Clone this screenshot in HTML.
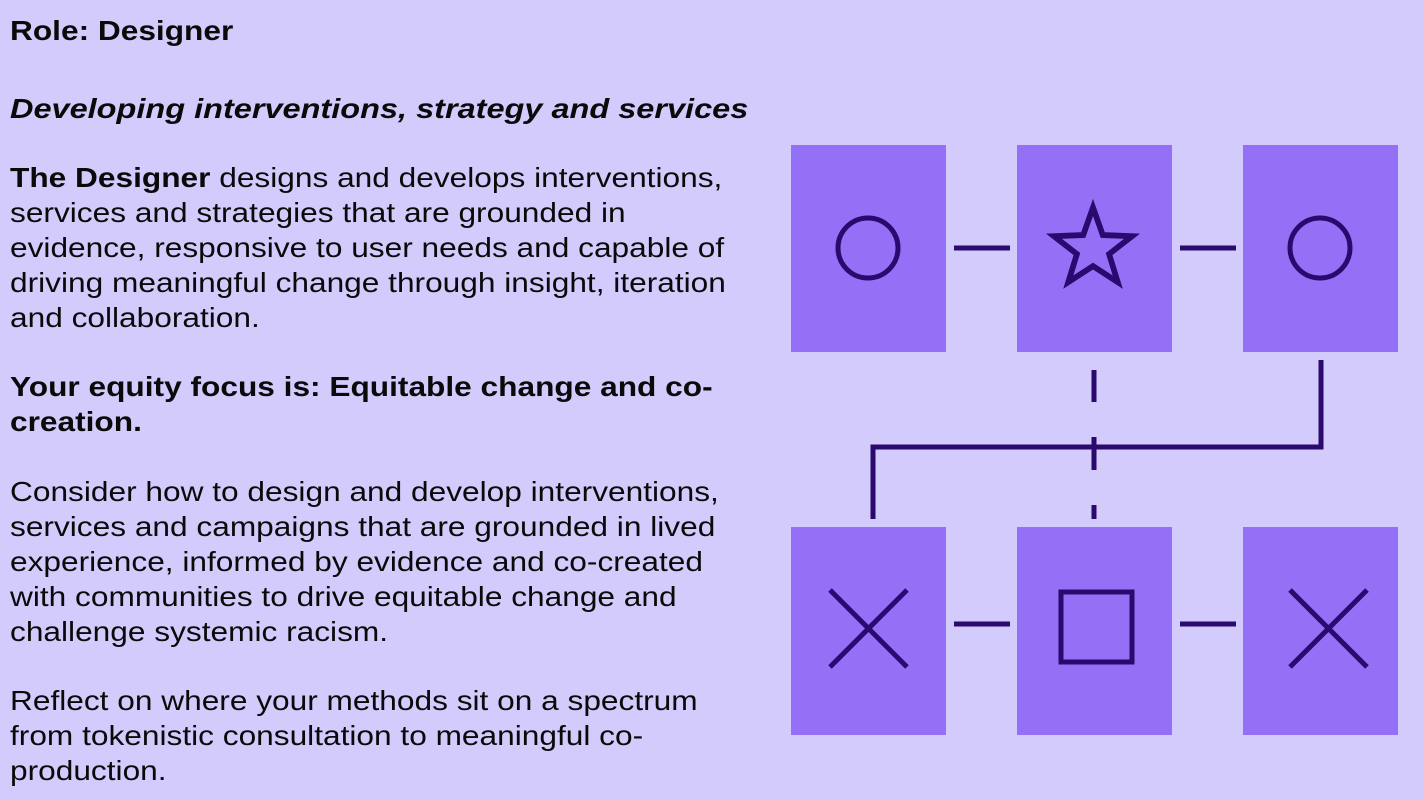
<!DOCTYPE html>
<html><head><style>
body{margin:0;width:1424px;height:800px;background:#d2cbfb;overflow:hidden;font-family:"Liberation Sans",sans-serif;color:#0a0a0a;position:relative}
.l{position:absolute;left:10px;white-space:nowrap;font-size:28px;line-height:35px;transform:scaleX(1.13);transform-origin:0 50%}
b{font-weight:bold}
</style></head><body>
<div class="l" style="top:13px"><b>Role: Designer</b></div>
<div class="l" style="top:91px;transform:scaleX(1.16)"><b><i>Developing interventions, strategy and services</i></b></div>
<div class="l" style="top:160px"><b>The Designer</b> designs and develops interventions,</div>
<div class="l" style="top:195px">services and strategies that are grounded in</div>
<div class="l" style="top:230px">evidence, responsive to user needs and capable of</div>
<div class="l" style="top:265px">driving meaningful change through insight, iteration</div>
<div class="l" style="top:300px">and collaboration.</div>
<div class="l" style="top:369px"><b>Your equity focus is: Equitable change and co-</b></div>
<div class="l" style="top:404px"><b>creation.</b></div>
<div class="l" style="top:474px">Consider how to design and develop interventions,</div>
<div class="l" style="top:509px">services and campaigns that are grounded in lived</div>
<div class="l" style="top:544px">experience, informed by evidence and co-created</div>
<div class="l" style="top:579px">with communities to drive equitable change and</div>
<div class="l" style="top:614px">challenge systemic racism.</div>
<div class="l" style="top:683px">Reflect on where your methods sit on a spectrum</div>
<div class="l" style="top:718px">from tokenistic consultation to meaningful co-</div>
<div class="l" style="top:753px">production.</div>
<svg width="1424" height="800" style="position:absolute;left:0;top:0">
<g fill="#9370f5">
<rect x="791" y="145" width="155" height="207"/>
<rect x="1017" y="145" width="155" height="207"/>
<rect x="1243" y="145" width="155" height="207"/>
<rect x="791" y="527" width="155" height="208"/>
<rect x="1017" y="527" width="155" height="208"/>
<rect x="1243" y="527" width="155" height="208"/>
</g>
<g stroke="#2a0a6e" stroke-width="5" fill="none">
<circle cx="868" cy="248" r="30"/>
<circle cx="1320" cy="248" r="30"/>
<polygon transform="translate(1093,250) scale(1.15) translate(-1093,-250)" points="1093,213 1101.5,237 1127,238 1107,253.5 1114.5,278 1093,264 1071.5,278 1079,253.5 1059,238 1084.5,237"/>
<line x1="954" y1="248" x2="1010" y2="248"/>
<line x1="1180" y1="248" x2="1236" y2="248"/>
<line x1="954" y1="624" x2="1010" y2="624"/>
<line x1="1180" y1="624" x2="1236" y2="624"/>
<line x1="1094" y1="370" x2="1094" y2="402"/>
<line x1="1094" y1="437" x2="1094" y2="470"/>
<line x1="1094" y1="505" x2="1094" y2="519"/>
<polyline points="1321,360 1321,447 873,447 873,519"/>
<line x1="830" y1="590" x2="907" y2="667"/>
<line x1="907" y1="590" x2="830" y2="667"/>
<line x1="1290" y1="590" x2="1367" y2="667"/>
<line x1="1367" y1="590" x2="1290" y2="667"/>
<rect x="1061" y="592" width="71" height="70"/>
</g>
</svg>
</body></html>
